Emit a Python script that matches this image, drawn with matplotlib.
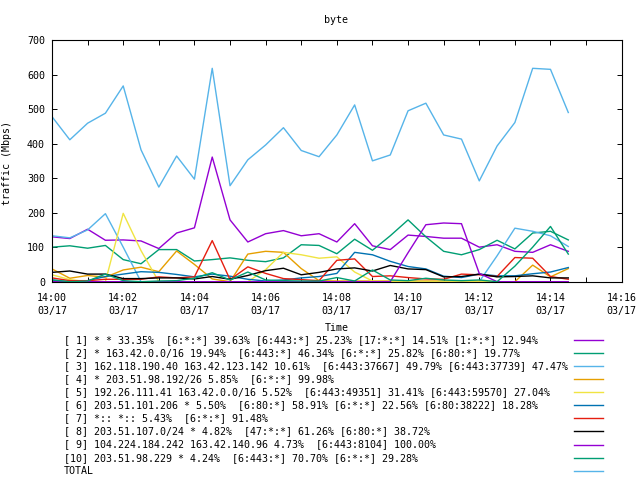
import pandas as pd
import matplotlib
matplotlib.use("Agg")
import matplotlib.pyplot as plt
import matplotlib.dates as mdates
from matplotlib.lines import Line2D

plt.rcParams['font.family'] = ['DejaVu Sans Mono']
plt.rcParams['font.size'] = 7.2

# sample times, 30 s apart
times = pd.date_range("2017-03-17 14:00:00", periods=30, freq="30s")

s1 = [130, 125, 152, 120, 121, 118, 96, 141, 156, 361, 179, 115, 139, 148, 133,
      139, 115, 168, 104, 93, 135, 131, 126, 126, 100, 107, 88, 85, 107, 88]
s2 = [100, 104, 97, 105, 64, 52, 93, 93, 60, 64, 69, 62, 58, 69, 107,
      105, 81, 123, 91, 133, 179, 130, 88, 78, 93, 120, 95, 141, 146, 121]
s3 = [133, 127, 150, 197, 100, 0, 0, 0, 0, 0, 0, 0, 0, 0, 0,
      0, 0, 0, 0, 0, 0, 0, 0, 0, 0, 75, 155, 146, 133, 102]
s4 = [37, 10, 18, 13, 34, 42, 29, 89, 50, 8, 0, 80, 88, 85, 38,
      3, 2, 2, 2, 2, 2, 2, 2, 2, 2, 0, 0, 48, 14, 38]
s5 = [20, 6, 0, 0, 198, 90, 0, 0, 0, 0, 0, 0, 35, 85, 78,
      68, 72, 28, 2, 0, 0, 0, 0, 0, 0, 0, 0, 0, 0, 0]
s6 = [5, 0, 3, 15, 22, 29, 27, 21, 14, 22, 16, 7, 2, 5, 11,
      15, 24, 85, 78, 59, 44, 37, 16, 12, 22, 17, 17, 23, 28, 41]
s7 = [11, 3, 3, 7, 7, 7, 14, 11, 14, 119, 6, 43, 24, 9, 6,
      3, 62, 66, 15, 17, 12, 8, 7, 22, 20, 15, 70, 68, 15, 7]
s8 = [27, 31, 22, 22, 9, 9, 11, 11, 8, 15, 7, 18, 32, 39, 20,
      27, 37, 40, 31, 47, 37, 35, 14, 15, 22, 14, 15, 17, 11, 11]
s9 = [0, 0, 0, 0, 0, 0, 0, 0, 0, 0, 0, 0, 0, 0, 0,
      0, 0, 0, 0, 0, 84, 165, 170, 168, 24, 0, 0, 0, 0, 0]
s10 = [5, 0, 2, 22, 3, 0, 2, 3, 10, 26, 5, 28, 5, 3, 2,
       2, 12, 2, 34, 5, 3, 10, 5, 3, 5, 0, 45, 100, 160, 80]
total = [478, 411, 459, 488, 567, 382, 274, 364, 297, 618, 278, 353, 396, 446, 380,
         362, 425, 512, 350, 367, 495, 517, 425, 413, 292, 393, 461, 618, 615, 490]

labels = [
    "[ 1] * * 33.35%  [6:*:*] 39.63% [6:443:*] 25.23% [17:*:*] 14.51% [1:*:*] 12.94%",
    "[ 2] * 163.42.0.0/16 19.94%  [6:443:*] 46.34% [6:*:*] 25.82% [6:80:*] 19.77%",
    "[ 3] 162.118.190.40 163.42.123.142 10.61%  [6:443:37667] 49.79% [6:443:37739] 47.47%",
    "[ 4] * 203.51.98.192/26 5.85%  [6:*:*] 99.98%",
    "[ 5] 192.26.111.41 163.42.0.0/16 5.52%  [6:443:49351] 31.41% [6:443:59570] 27.04%",
    "[ 6] 203.51.101.206 * 5.50%  [6:80:*] 58.91% [6:*:*] 22.56% [6:80:38222] 18.28%",
    "[ 7] *:: *:: 5.43%  [6:*:*] 91.48%",
    "[ 8] 203.51.107.0/24 * 4.82%  [47:*:*] 61.26% [6:80:*] 38.72%",
    "[ 9] 104.224.184.242 163.42.140.96 4.73%  [6:443:8104] 100.00%",
    "[10] 203.51.98.229 * 4.24%  [6:443:*] 70.70% [6:*:*] 29.28%",
    "TOTAL",
]
series = [s1, s2, s3, s4, s5, s6, s7, s8, s9, s10, total]
colors = ['#9400d3', '#009e73', '#56b4e9', '#e69f00', '#f0e442', '#0072b2',
          '#e51e10', '#000000', '#9400d3', '#009e73', '#56b4e9']

fig = plt.figure(figsize=(6.4, 4.8), dpi=100)
W, H = 640, 480
ax = fig.add_axes([52 / W, 1 - 281.7 / H, (621.7 - 52) / W, (281.7 - 40) / H])

for vals, c in zip(series, colors):
    ax.plot(times, vals, color=c, linewidth=1.0)

ax.set_xlim(pd.Timestamp("2017-03-17 14:00"), pd.Timestamp("2017-03-17 14:16"))
ax.set_ylim(0, 700)
ax.set_yticks(range(0, 701, 100))
ax.xaxis.set_major_locator(mdates.MinuteLocator(byminute=range(0, 60, 2)))
ax.xaxis.set_minor_locator(mdates.MinuteLocator())
ax.xaxis.set_major_formatter(mdates.DateFormatter("%H:%M\n%m/%d"))
ax.tick_params(which='both', direction='in', top=True, right=True,
               length=3.6, width=0.7)
ax.tick_params(axis='x', pad=8)
ax.tick_params(axis='y', pad=5)
for lab in ax.get_xticklabels():
    lab.set_linespacing(1.35)
for sp in ax.spines.values():
    sp.set_linewidth(0.8)

ax.set_xlabel("Time", va='center')
ax.xaxis.set_label_coords(0.5, (281.7 - 328) / 241.7)
ax.set_ylabel("traffic (Mbps)")
ax.yaxis.set_label_coords((12 - 52) / 569.7, 0.49)

fig.text(336 / W, 1 - 20 / H, "byte", ha='center', va='center')

# gnuplot style key: text on the left, sample line on the right
for i, (lab, c) in enumerate(zip(labels, colors)):
    y = 1 - (340 + 13.07 * i) / H
    fig.text(64 / W, y, lab, ha='left', va='center')
    fig.add_artist(Line2D([574 / W, 603 / W], [y, y], color=c, linewidth=1.0,
                          transform=fig.transFigure))

fig.savefig("out.png", dpi=100)
